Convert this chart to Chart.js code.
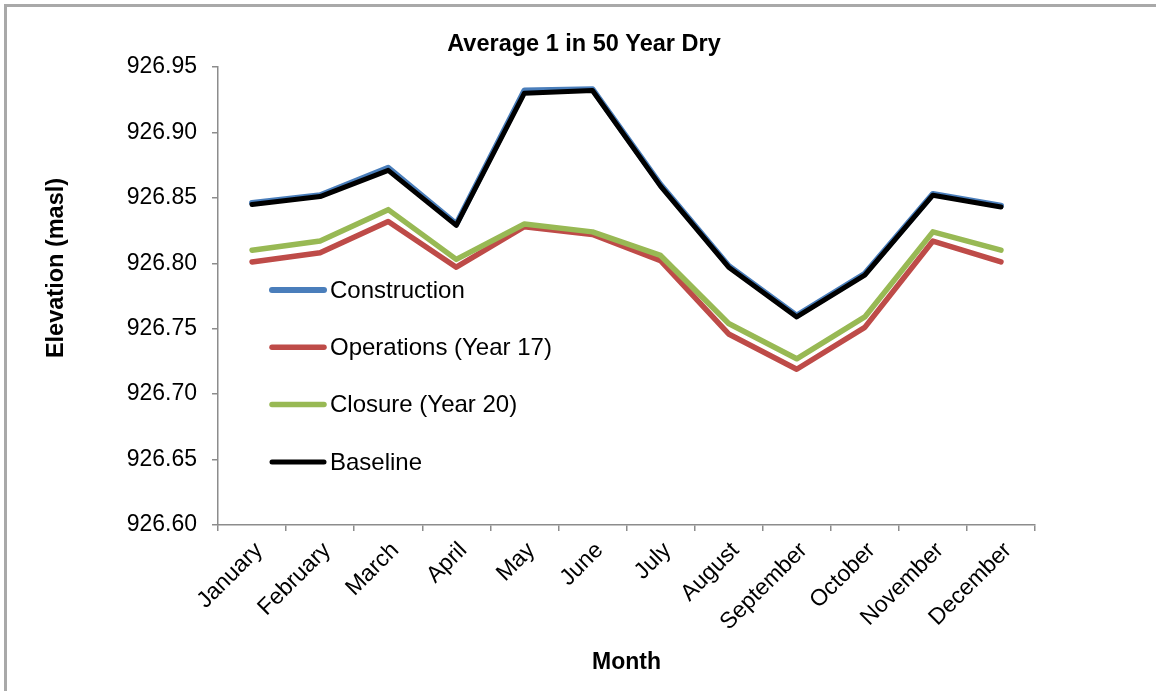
<!DOCTYPE html>
<html>
<head>
<meta charset="utf-8">
<script src="https://cdn.jsdelivr.net/npm/chart.js@4.4.1/dist/chart.umd.min.js"></script>
<style>
  html, body { margin: 0; padding: 0; background: #fff; }
  #wrap { position: relative; width: 1156px; height: 691px; }
  #frame { position: absolute; left: 4px; top: 4px; right: 0; bottom: 0;
           border-top: 3px solid #a9a9a9; border-left: 3px solid #a9a9a9; pointer-events: none; }
  canvas { position: absolute; left: 0; top: 0; }
</style>
</head>
<body>
<div id="wrap">
  <canvas id="chart" width="1156" height="691"></canvas>
  <div id="frame"></div>
</div>
<script>
const months = ["January", "February", "March", "April", "May", "June",
  "July", "August", "September", "October", "November", "December"];

const construction = [926.846, 926.852, 926.873, 926.830, 926.932, 926.933,
  926.860, 926.798, 926.760, 926.792, 926.853, 926.844];
const operations = [926.801, 926.808, 926.832, 926.797, 926.828, 926.822,
  926.802, 926.746, 926.719, 926.751, 926.817, 926.801];
const closure = [926.810, 926.817, 926.841, 926.803, 926.830, 926.824,
  926.806, 926.754, 926.727, 926.759, 926.824, 926.810];
const baseline = [926.845, 926.851, 926.871, 926.829, 926.930, 926.932,
  926.859, 926.797, 926.759, 926.791, 926.852, 926.843];

const yMin = 926.60;
const yMax = 926.95;
const yStep = 0.05;

const chartTitle = "Average 1 in 50 Year Dry";
const yTitle = "Elevation (masl)";
const xTitle = "Month";

const fontFamily = "'Liberation Sans', Arial, sans-serif";
const axisColor = "#8c8c8c";

// legend inside the plot + chart title + y title, drawn by hand
const customText = {
  id: "customText",
  afterDraw(chart) {
    const ctx = chart.ctx;
    const area = chart.chartArea;
    ctx.save();

    // legend
    ctx.font = "24px " + fontFamily;
    ctx.textAlign = "left";
    ctx.textBaseline = "middle";
    chart.data.datasets.forEach((ds, i) => {
      const y = area.top + 223 + i * 57.3;
      const x = area.left + 54;
      ctx.strokeStyle = ds.borderColor;
      ctx.lineWidth = ds.borderWidth;
      ctx.lineCap = "round";
      ctx.beginPath();
      ctx.moveTo(x, y);
      ctx.lineTo(x + 52, y);
      ctx.stroke();
      ctx.fillStyle = "#000";
      ctx.fillText(ds.label, x + 58, y + 1);
    });

    // title
    ctx.font = "bold 23.5px " + fontFamily;
    ctx.textAlign = "center";
    ctx.textBaseline = "alphabetic";
    ctx.fillText(chartTitle, 584, 51);

    // y axis title
    ctx.translate(63, 268);
    ctx.rotate(-Math.PI / 2);
    ctx.fillText(yTitle, 0, 0);
    ctx.restore();
  }
};

const ctx = document.getElementById("chart").getContext("2d");
new Chart(ctx, {
  type: "line",
  data: {
    labels: months,
    datasets: [
      { label: "Construction", data: construction, borderColor: "#4a7ebb", borderWidth: 6, order: 3 },
      { label: "Operations (Year 17)", data: operations, borderColor: "#be4b48", borderWidth: 5.5, order: 2 },
      { label: "Closure (Year 20)", data: closure, borderColor: "#98b954", borderWidth: 5.5, order: 1 },
      { label: "Baseline", data: baseline, borderColor: "#000000", borderWidth: 5, order: 0 },
    ].map((d) => Object.assign(d, {
      pointRadius: 0,
      fill: false,
      tension: 0,
      borderJoinStyle: "round",
      borderCapStyle: "round",
    })),
  },
  options: {
    responsive: false,
    animation: false,
    layout: {
      padding: { top: 67, right: 121, left: 0, bottom: 0 },
    },
    scales: {
      x: {
        offset: true,
        afterFit: (scale) => { scale.height = 166; },
        grid: {
          offset: true,
          drawOnChartArea: false,
          drawTicks: true,
          tickLength: 6,
          color: axisColor,
          lineWidth: 1.5,
        },
        border: { color: axisColor, width: 1.5 },
        ticks: {
          maxRotation: 45,
          minRotation: 45,
          autoSkip: false,
          padding: 6,
          labelOffset: 7,
          color: "#000",
          font: { family: fontFamily, size: 23 },
        },
        title: {
          display: true,
          text: xTitle,
          color: "#000",
          padding: { top: 0, bottom: 15 },
          font: { family: fontFamily, size: 23, weight: "bold" },
        },
      },
      y: {
        min: yMin,
        max: yMax,
        afterFit: (scale) => { scale.width = 218; },
        grid: {
          drawOnChartArea: false,
          drawTicks: true,
          tickLength: 6,
          color: axisColor,
          lineWidth: 1.5,
        },
        border: { color: axisColor, width: 1.5 },
        ticks: {
          stepSize: yStep,
          padding: 15,
          color: "#000",
          font: { family: fontFamily, size: 23 },
          callback: (v) => Number(v).toFixed(2),
        },
      },
    },
    plugins: {
      legend: { display: false },
      tooltip: { enabled: false },
      title: { display: false },
    },
  },
  plugins: [customText],
});
</script>
</body>
</html>
